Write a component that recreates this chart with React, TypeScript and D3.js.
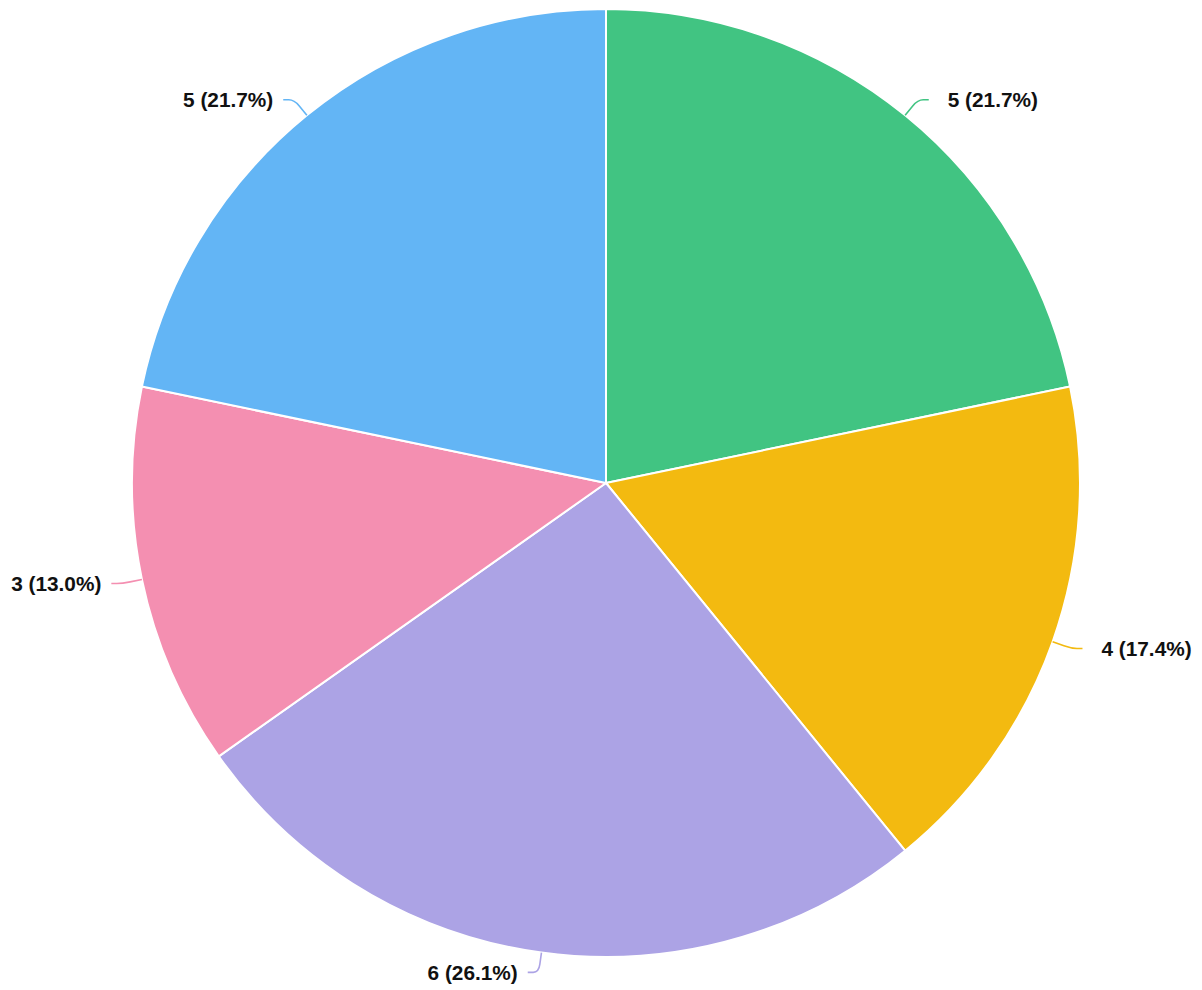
import React from "react";
import * as d3 from "d3";

const categories = ["A", "B", "C", "D", "E"];
const values = [5, 4, 6, 3, 5];
const colors = ["#41c482", "#f3ba10", "#aca3e5", "#f48fb1", "#63b5f5"];

const W = 1202;
const H = 990;
const CX = 606;
const CY = 483;
const R = 474;

export default function App() {
  const total = d3.sum(values);
  const pie = d3
    .pie<number>()
    .sort(null)
    .value((d) => d)(values);
  const arc = d3.arc<d3.PieArcDatum<number>>().innerRadius(0).outerRadius(R);

  return (
    <svg
      width={W}
      height={H}
      style={{ position: "absolute", left: 0, top: 0 }}
      fontFamily="'Liberation Sans', Arial, Helvetica, sans-serif"
    >
      <g transform={`translate(${CX},${CY})`}>
        {pie.map((p, i) => (
          <path
            key={categories[i]}
            d={arc(p) || ""}
            fill={colors[i]}
            stroke="#fff"
            strokeWidth={2}
            strokeLinejoin="round"
          />
        ))}
        {pie.map((p, i) => {
          const a = (p.startAngle + p.endAngle) / 2;
          const s = Math.sin(a);
          const c = -Math.cos(a);
          const x0 = R * s;
          const y0 = R * c;
          const x1 = (R + 20) * s;
          const y1 = (R + 20) * c;
          const right = s >= 0;
          const x2 = x1 + (right ? 11 : -11);
          const y2 = y1;
          const t = 0.6;
          const ax = x0 + (x1 - x0) * t;
          const ay = y0 + (y1 - y0) * t;
          const bx = x1 + (x2 - x1) * 0.5;
          const d = `M${x0},${y0} L${ax},${ay} Q${x1},${y1} ${bx},${y2} L${x2},${y2}`;
          const pct = ((values[i] / total) * 100).toFixed(1);
          const tx = right ? x2 + 19 : x2 - 10;
          return (
            <g key={"l" + i}>
              <path d={d} fill="none" stroke={colors[i]} strokeWidth={1.6} />
              <text
                x={tx}
                y={y2}
                textAnchor={right ? "start" : "end"}
                dominantBaseline="central"
                fontSize={20.8}
                fontWeight="bold"
                fill="#111"
              >
                {`${values[i]} (${pct}%)`}
              </text>
            </g>
          );
        })}
      </g>
    </svg>
  );
}
